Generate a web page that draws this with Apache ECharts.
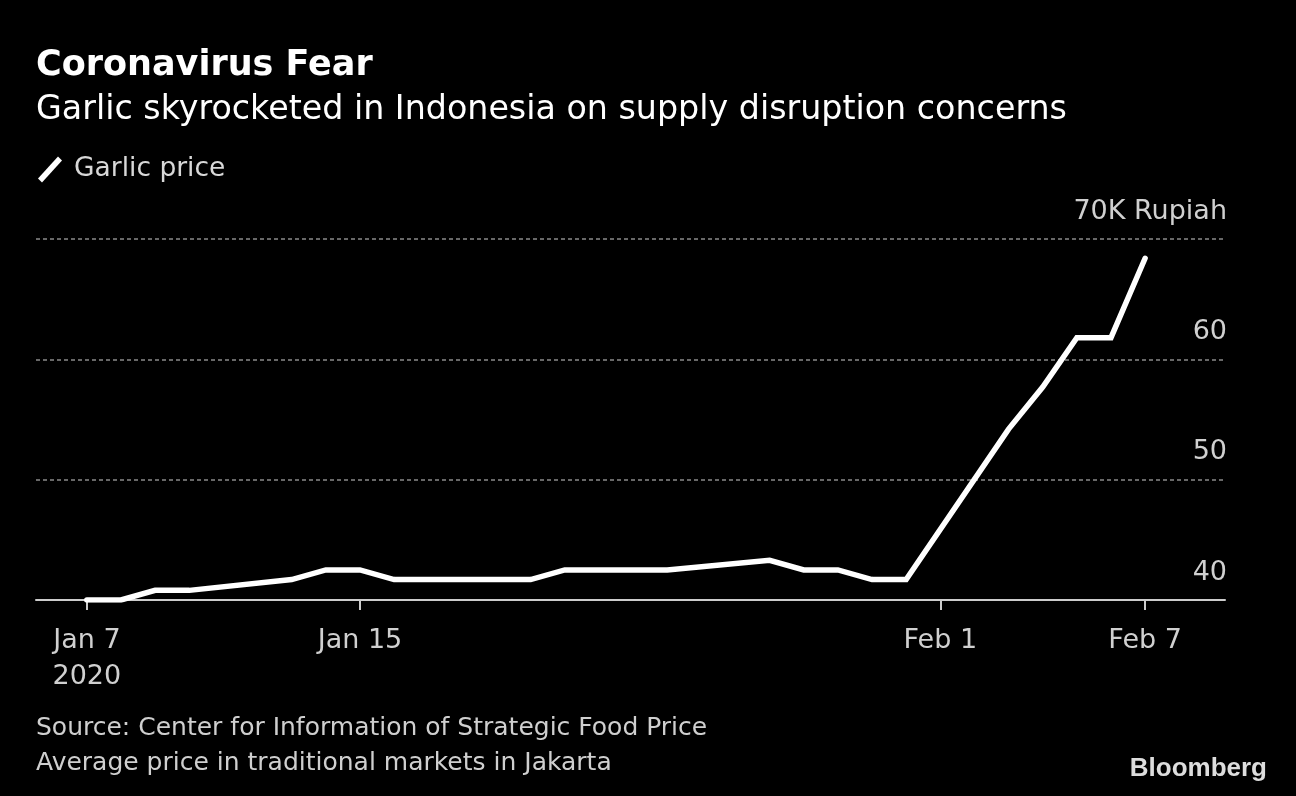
<!DOCTYPE html>
<html>
<head>
<meta charset="utf-8">
<script src="https://cdn.jsdelivr.net/npm/echarts@6/dist/echarts.min.js"></script>
<style>
html,body{margin:0;padding:0;background:#000;}
#chart{width:1296px;height:796px;}
</style>
</head>
<body>
<div id="chart"></div>
<script>
// ---- data ----
const dates = ['2020-01-07','2020-01-08','2020-01-09','2020-01-10','2020-01-13','2020-01-14','2020-01-15','2020-01-16','2020-01-17','2020-01-20','2020-01-21','2020-01-22','2020-01-23','2020-01-24','2020-01-27','2020-01-28','2020-01-29','2020-01-30','2020-01-31','2020-02-03','2020-02-04','2020-02-05','2020-02-06','2020-02-07'];
const prices = [40.0,40.0,40.8,40.8,41.7,42.5,42.5,41.7,41.7,41.7,42.5,42.5,42.5,42.5,43.3,42.5,42.5,41.7,41.7,54.2,57.7,61.8,61.8,68.4];
const tickDates = ['2020-01-07','2020-01-15','2020-02-01','2020-02-07'];
const tickLabels = ['Jan 7\n2020','Jan 15','Feb 1','Feb 7'];
const yTicks = [40,50,60,70];
const yTickLabels = ['40','50','60','70K Rupiah'];

const DAY = 86400000;
const ts = s => { const p = s.split('-').map(Number); return Date.UTC(p[0], p[1]-1, p[2]); };
const seriesData = dates.map((d,i) => [ts(d), prices[i]]);
const tickTs = tickDates.map(ts);
const xMin = ts('2020-01-07') - 1.49*DAY;
const xMax = ts('2020-02-07') + 2.34*DAY;

const FONT = 'DejaVu Sans';
const chart = echarts.init(document.getElementById('chart'));
chart.setOption({
  backgroundColor: '#000',
  animation: false,
  textStyle: {fontFamily: FONT},
  title: [
    {text: 'Coronavirus Fear', left: 31, top: 43,
     textStyle: {color: '#fff', fontSize: 35, fontWeight: 'bold', fontFamily: FONT}},
    {text: 'Garlic skyrocketed in Indonesia on supply disruption concerns', left: 31, top: 89,
     textStyle: {color: '#fff', fontSize: 33.3, fontWeight: 'normal', fontFamily: FONT}},
    {text: 'Source: Center for Information of Strategic Food Price\nAverage price in traditional markets in Jakarta', left: 31, top: 706,
     textStyle: {color: '#cfcfcf', fontSize: 25, fontWeight: 'normal', lineHeight: 35, fontFamily: FONT}},
    {text: 'Bloomberg', right: 24, top: 751,
     textStyle: {color: '#dddddd', fontSize: 26, fontWeight: 'bold', fontFamily: 'Liberation Sans'}}
  ],
  legend: {
    left: 33, top: 151, itemWidth: 26, itemHeight: 26, itemGap: 18,
    textStyle: {color: '#d8d8d8', fontSize: 26.5, fontFamily: FONT, padding: [0,0,0,6]},
    data: [{name: 'Garlic price', icon: 'path://M0,22 L20,0 L24,4 L4,26 Z'}]
  },
  grid: {left: 36, right: 71, top: 239, bottom: 196, containLabel: false},
  xAxis: {
    type: 'value', min: xMin, max: xMax,
    axisLine: {show: true, lineStyle: {color: '#cccccc', width: 2}},
    axisTick: {show: true, customValues: tickTs, length: 10, lineStyle: {color: '#cccccc', width: 2}},
    axisLabel: {
      customValues: tickTs, color: '#d0d0d0', fontSize: 27, lineHeight: 36, margin: 23,
      fontFamily: FONT, hideOverlap: false,
      formatter: v => { const i = tickTs.indexOf(v); return i >= 0 ? tickLabels[i] : ''; }
    },
    splitLine: {show: false}
  },
  yAxis: {
    type: 'value', min: 40, max: 70, interval: 10, position: 'right',
    axisLine: {show: false}, axisTick: {show: false},
    axisLabel: {
      inside: true, margin: -2, color: '#d0d0d0', fontSize: 27, fontFamily: FONT,
      verticalAlign: 'bottom', padding: [0,0,14,0],
      formatter: v => { const i = yTicks.indexOf(v); return i >= 0 ? yTickLabels[i] : ''; }
    },
    splitLine: {show: true, lineStyle: {color: '#8a8a8a', type: [4,3], width: 1.5}}
  },
  series: [{
    name: 'Garlic price', type: 'line', data: seriesData, showSymbol: false, symbol: 'none',
    lineStyle: {color: '#ffffff', width: 5.5, cap: 'round', join: 'miter'},
    itemStyle: {color: '#ffffff'}, z: 5
  }]
});
</script>
</body>
</html>
